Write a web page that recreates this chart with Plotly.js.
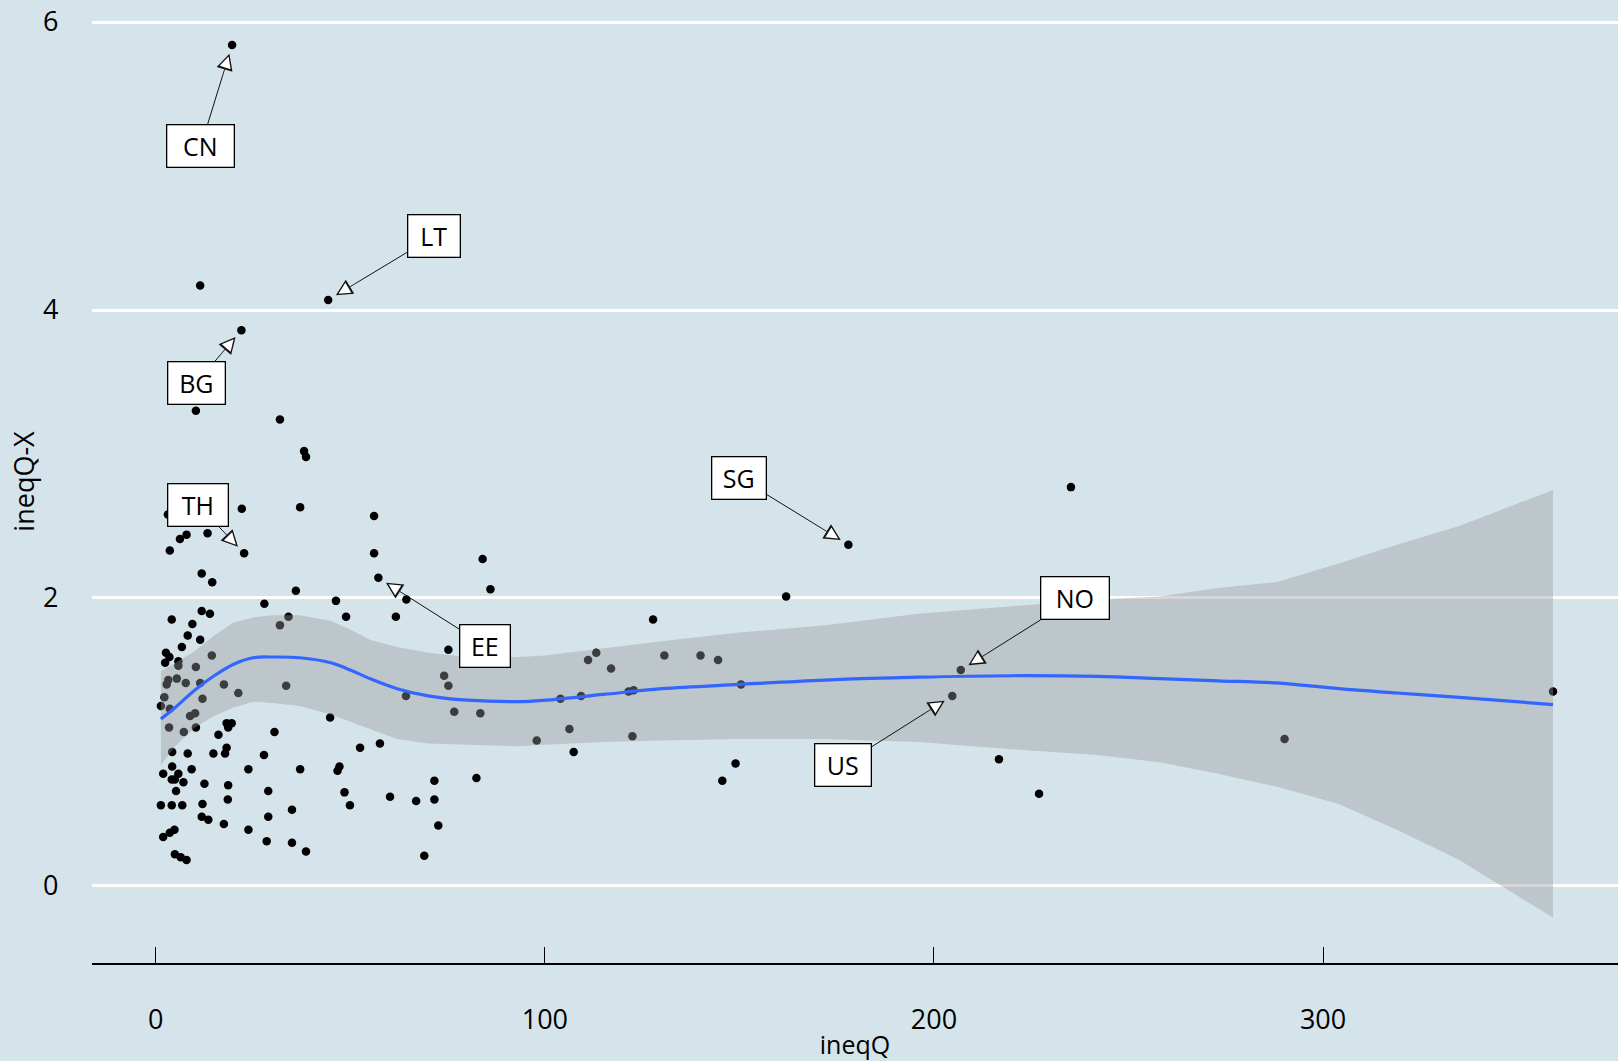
<!DOCTYPE html>
<html>
<head>
<meta charset="utf-8">
<script src="https://cdn.plot.ly/plotly-3.0.1.min.js"></script>
<style>html,body{margin:0;padding:0;background:#d5e4eb;} #chart{width:1618px;height:1061px;}</style>
</head>
<body>
<div id="chart"></div>
<script>
// ---- data: scatter points (ineqQ, ineqQ-X) ----
var ptX = [19.6, 11.4, 44.3, 22.0, 10.3, 31.9, 38.1, 38.6, 3.1, 22.1, 37.1, 56.1, 178.0, 235.2,
  13.3, 7.9, 6.2, 3.6, 22.7, 84.0, 56.1, 11.8, 14.5, 57.2, 86.0, 36.0, 162.0,
  64.4, 46.3, 27.9, 11.8, 13.9, 61.7, 48.9, 34.1, 31.9, 4.1, 9.4, 127.8, 8.2, 11.4, 6.7, 75.2,
  2.6, 3.5, 2.4, 5.8, 5.8, 14.4, 10.3, 111.1, 113.2, 130.7, 140.0, 144.5, 117.0, 206.9,
  3.2, 5.4, 2.8, 7.7, 11.4, 17.5, 33.5, 21.2, 2.2, 12.0, 1.3, 3.6, 8.8, 10.1, 74.1, 75.2, 64.3,
  76.7, 83.4, 44.8, 150.4, 121.5, 122.8, 109.3, 104.0, 204.7, 359.1, 3.4, 7.2, 10.3, 18.2, 19.5,
  18.6, 16.1, 30.5, 106.3, 122.5, 97.9, 290.1,
  57.6, 52.5, 4.2, 8.2, 14.8, 17.8, 18.2, 27.8, 107.4, 216.7, 149.0, 1.9, 4.2, 5.8, 4.9, 7.1, 4.1,
  9.2, 23.8, 37.1, 47.2, 46.7, 82.4, 71.6, 71.6, 145.6, 12.5, 18.6, 5.2, 28.9, 48.5, 49.9, 227.0,
  60.2, 66.9, 1.3, 4.1, 6.8, 12.0, 18.5, 35.0,
  11.8, 13.5, 17.5, 23.8, 28.9, 72.6, 1.9, 3.6, 4.8, 28.5, 35.0, 38.6, 69.0, 4.9, 6.4, 7.9];
var ptY = [5.84, 4.17, 4.07, 3.86, 3.30, 3.24, 3.02, 2.98, 2.58, 2.62, 2.63, 2.57, 2.37, 2.77,
  2.45, 2.44, 2.41, 2.33, 2.31, 2.27, 2.31, 2.17, 2.11, 2.14, 2.06, 2.05, 2.01,
  1.99, 1.98, 1.96, 1.91, 1.89, 1.87, 1.87, 1.87, 1.81, 1.85, 1.82, 1.85, 1.74, 1.71, 1.66, 1.64,
  1.62, 1.59, 1.55, 1.56, 1.53, 1.60, 1.52, 1.57, 1.62, 1.60, 1.60, 1.57, 1.51, 1.50,
  1.43, 1.44, 1.40, 1.41, 1.41, 1.40, 1.39, 1.34, 1.31, 1.30, 1.25, 1.23, 1.18, 1.20, 1.46, 1.39, 1.32,
  1.21, 1.20, 1.17, 1.40, 1.35, 1.36, 1.32, 1.30, 1.32, 1.35, 1.10, 1.07, 1.10, 1.13, 1.13,
  1.10, 1.05, 1.07, 1.09, 1.04, 1.01, 1.02,
  0.99, 0.96, 0.93, 0.92, 0.92, 0.92, 0.96, 0.91, 0.93, 0.88, 0.85, 0.78, 0.83, 0.78, 0.74, 0.72, 0.74,
  0.81, 0.81, 0.81, 0.83, 0.80, 0.75, 0.73, 0.60, 0.73, 0.71, 0.70, 0.66, 0.66, 0.65, 0.56, 0.64,
  0.62, 0.59, 0.56, 0.56, 0.56, 0.57, 0.60, 0.53,
  0.48, 0.46, 0.43, 0.39, 0.48, 0.42, 0.34, 0.37, 0.39, 0.31, 0.30, 0.24, 0.21, 0.22, 0.20, 0.18];

// ---- data: loess smooth with confidence band ----
var fitX     = [1.3, 5, 10, 15, 20, 25, 30, 37, 45, 50, 55, 62, 70, 80, 93, 100, 115, 130, 150, 172, 196, 220, 242, 258, 273, 288, 304, 319, 335, 359.1];
var fitY     = [1.16, 1.24, 1.36, 1.46, 1.54, 1.585, 1.59, 1.585, 1.55, 1.50, 1.44, 1.37, 1.32, 1.29, 1.28, 1.29, 1.33, 1.37, 1.40, 1.43, 1.45, 1.46, 1.455, 1.44, 1.425, 1.41, 1.37, 1.34, 1.31, 1.26];
var fitUpper = [1.49, 1.55, 1.63, 1.74, 1.83, 1.865, 1.88, 1.88, 1.84, 1.78, 1.71, 1.66, 1.62, 1.59, 1.59, 1.60, 1.65, 1.70, 1.76, 1.81, 1.89, 1.94, 1.99, 2.01, 2.07, 2.11, 2.24, 2.37, 2.50, 2.75];
var fitLower = [0.84, 0.97, 1.10, 1.18, 1.24, 1.28, 1.27, 1.25, 1.19, 1.14, 1.09, 1.02, 0.99, 0.98, 0.97, 0.98, 1.00, 1.01, 1.02, 1.02, 1.00, 0.95, 0.91, 0.86, 0.78, 0.69, 0.57, 0.39, 0.18, -0.22];

// ---- data: labelled countries ----
var labText = ["CN", "LT", "BG", "TH", "EE", "SG", "NO", "US"];
var labPtX  = [19.6, 44.3, 22.0, 22.7, 57.2, 178.0, 206.9, 204.7];
var labPtY  = [5.84, 4.07, 3.86, 2.31, 2.14, 2.37, 1.50, 1.32];
var labBoxX = [11.6, 71.6, 10.5, 10.9, 84.6, 150.0, 236.2, 176.5];
var labBoxY = [5.14, 4.515, 3.495, 2.646, 1.67, 2.835, 1.997, 0.839];

var xTicks = [0, 100, 200, 300];
var yTicks = [0, 2, 4, 6];

// ---- style (not data) ----
var FONT = "Open Sans, Liberation Sans, DejaVu Sans, sans-serif";
var labelBoxWidth = {CN: 58, LT: 43, BG: 48, TH: 51, EE: 41, SG: 45, NO: 59, US: 47};
var W = 1618, H = 1061, M = {l: 92, r: 0, t: 0, b: 98};
var xRange = [-16.4, 375.8], yRange = [-0.535, 6.153];
// pixels per data unit, used only to orient the short white arrowhead overlays
var pxPerX = (W - M.l - M.r) / (xRange[1] - xRange[0]);
var pxPerY = (H - M.t - M.b) / (yRange[1] - yRange[0]);

var traces = [
  {x: ptX, y: ptY, type: "scatter", mode: "markers",
   marker: {color: "#000000", size: 8.5, line: {width: 0}}, hoverinfo: "skip", showlegend: false},
  {x: fitX, y: fitLower, type: "scatter", mode: "lines", line: {width: 0, color: "rgba(0,0,0,0)"},
   hoverinfo: "skip", showlegend: false},
  {x: fitX, y: fitUpper, type: "scatter", mode: "lines", fill: "tonexty",
   fillcolor: "rgba(153,153,153,0.4)", line: {width: 0, color: "rgba(0,0,0,0)"},
   hoverinfo: "skip", showlegend: false},
  {x: fitX, y: fitY, type: "scatter", mode: "lines", line: {color: "#3366FF", width: 3.2, shape: "spline"},
   hoverinfo: "skip", showlegend: false}
];

// labelled boxes with a black arrow
var annotations = labText.map(function (t, i) {
  return {
    x: labPtX[i], y: labPtY[i], xref: "x", yref: "y",
    ax: labBoxX[i], ay: labBoxY[i], axref: "x", ayref: "y",
    text: t, showarrow: true, arrowhead: 2, arrowsize: 3.3, arrowwidth: 1,
    arrowcolor: "#111111", standoff: 9,
    font: {family: FONT, size: 25, color: "#000000"},
    width: labelBoxWidth[t], height: 33, align: "center", valign: "middle",
    bgcolor: "#ffffff", bordercolor: "#000000", borderwidth: 1.3, borderpad: 4
  };
});
// white fill inside each arrowhead (open-triangle look)
labText.forEach(function (t, i) {
  var dx = (labBoxX[i] - labPtX[i]) * pxPerX;
  var dy = -(labBoxY[i] - labPtY[i]) * pxPerY;
  var len = Math.sqrt(dx * dx + dy * dy);
  var L = 34;
  annotations.push({
    x: labPtX[i], y: labPtY[i], xref: "x", yref: "y",
    ax: dx / len * L, ay: dy / len * L, axref: "pixel", ayref: "pixel",
    text: "", showarrow: true, arrowhead: 2, arrowsize: 23, arrowwidth: 0.1,
    arrowcolor: "#ffffff", standoff: 12
  });
});

var layout = {
  width: W, height: H,
  paper_bgcolor: "#d5e4eb", plot_bgcolor: "#d5e4eb",
  margin: {l: M.l, r: M.r, t: M.t, b: M.b, pad: 0},
  showlegend: false,
  font: {family: FONT, size: 26, color: "#000000"},
  xaxis: {
    range: xRange, tickvals: xTicks, ticktext: xTicks.map(String),
    showgrid: false, zeroline: false, showline: true, linecolor: "#000000", linewidth: 2,
    ticks: "inside", ticklen: 16, tickwidth: 1, tickcolor: "#000000",
    ticklabelstandoff: 32,
    tickfont: {family: FONT, size: 27, color: "#000000"},
    title: {text: "ineqQ", font: {family: FONT, size: 25, color: "#000000"}, standoff: 5}
  },
  yaxis: {
    range: yRange, tickvals: yTicks, ticktext: yTicks.map(String),
    showgrid: true, gridcolor: "#ffffff", gridwidth: 3, zeroline: false, showline: false,
    ticks: "", ticklabelposition: "inside", ticklabelstandoff: -52,
    tickfont: {family: FONT, size: 27, color: "#000000"},
    title: {text: "ineqQ-X", font: {family: FONT, size: 27, color: "#000000"}, standoff: 0}
  },
  annotations: annotations
};

Plotly.newPlot("chart", traces, layout, {staticPlot: true, displayModeBar: false});
</script>
</body>
</html>
